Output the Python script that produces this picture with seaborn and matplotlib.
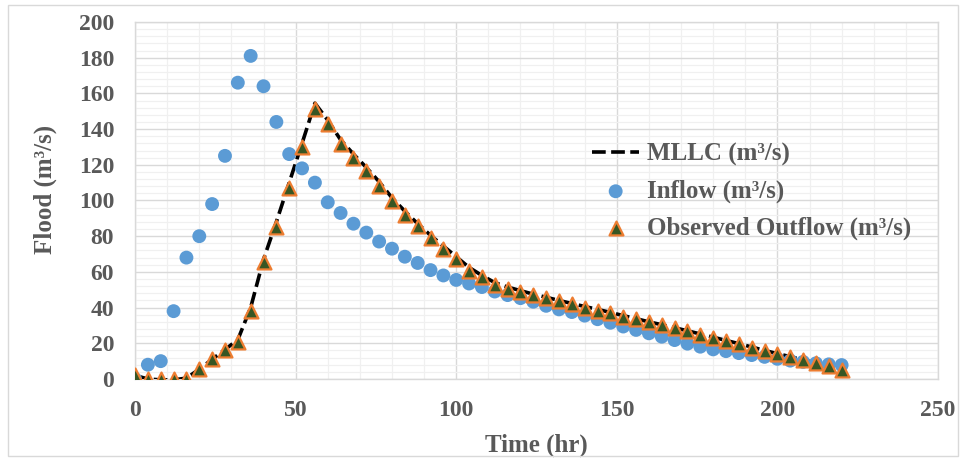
import matplotlib
matplotlib.use("Agg")
import matplotlib.pyplot as plt
import seaborn as sns
import pandas as pd
from matplotlib.patches import Rectangle
from matplotlib.ticker import MultipleLocator

time_hr = [0, 4, 8, 12, 16, 20, 24, 28, 32, 36, 40, 44, 48, 52, 56, 60, 64, 68,
           72, 76, 80, 84, 88, 92, 96, 100, 104, 108, 112, 116, 120, 124, 128,
           132, 136, 140, 144, 148, 152, 156, 160, 164, 168, 172, 176, 180, 184,
           188, 192, 196, 200, 204, 208, 212, 216, 220]

inflow = [0, 8, 10, 38, 68, 80, 98, 125, 166, 181, 164, 144, 126, 118, 110, 99,
          93, 87, 82, 77, 73, 68.5, 65, 61, 58, 55.5, 53.5, 51.5, 49, 47, 45.3,
          43.3, 41, 39, 37.5, 35.5, 33.5, 31.5, 29.4, 27.5, 25.6, 23.7, 21.8,
          19.8, 18.1, 16.6, 15.6, 14.5, 13.4, 12.4, 11.3, 10.3, 9.6, 8.8, 8.2, 7.8]

observed = [2, 0, 0, 0, 0, 5.6, 11, 16, 21, 38, 65.5, 85, 107, 130, 151, 143,
            131.6, 124, 116.5, 108, 99.5, 92, 85.5, 79, 73, 67, 60.5, 57, 52.5,
            50.5, 48.8, 47, 45.3, 43.5, 41.8, 40, 38.3, 36.8, 34.9, 33.4, 31.8,
            30.3, 28.4, 26.9, 24.8, 23.1, 21.2, 19.6, 17.6, 15.8, 14.0, 12.5,
            10.7, 9.1, 7.5, 5.0]

mllc = [2, 0, -0.5, -0.5, 0.5, 5.5, 11, 16.5, 22, 40, 67, 88, 110, 132, 154.5,
        145, 134, 126, 118.5, 110.5, 101.5, 94, 87, 80.5, 74.5, 68.5, 62.5, 58,
        54, 51.5, 49.5, 47.5, 45.8, 44, 42.3, 40.6, 39, 37.3, 35.5, 33.8, 32,
        30.4, 28.7, 27, 25.2, 23.4, 21.6, 19.8, 17.9, 16, 14.2, 12.5, 10.7, 9,
        7.3, 5.5]

df = pd.DataFrame({"time": time_hr, "inflow": inflow,
                   "observed": observed, "mllc": mllc})

sns.set_theme(style="white")
plt.rcParams["font.family"] = ["Liberation Serif", "DejaVu Serif"]
plt.rcParams["font.weight"] = "bold"

text_gray = "#595959"

fig = plt.figure(figsize=(9.66, 4.61), dpi=100)
ax = fig.add_axes([0.1398, 0.1779, 0.8312, 0.7744])

# chart area border
fig.patches.append(Rectangle((0.008, 0.01), 0.984, 0.98, transform=fig.transFigure,
                             fill=False, edgecolor="#d9d9d9", linewidth=1.0))

sns.lineplot(data=df, x="time", y="mllc", ax=ax, color="black", linewidth=2.6,
             dashes=False, linestyle=(0, (3.8, 1.5)), label="MLLC (m³/s)",
             zorder=3)
sns.scatterplot(data=df, x="time", y="inflow", ax=ax, color="#5B9BD5", s=100,
                marker="o", edgecolor="none", label="Inflow (m³/s)", zorder=4)
sns.scatterplot(data=df, x="time", y="observed", ax=ax, color="#375623", s=100,
                marker="^", edgecolor="#ED7D31", linewidth=1.6,
                label="Observed Outflow (m³/s)", zorder=5)

ax.set_xlim(0, 250)
ax.set_ylim(0, 200)
ax.xaxis.set_major_locator(MultipleLocator(50))
ax.xaxis.set_minor_locator(MultipleLocator(10))
ax.yaxis.set_major_locator(MultipleLocator(20))
ax.yaxis.set_minor_locator(MultipleLocator(4))
ax.grid(which="major", color="#d9d9d9", linewidth=1.0, zorder=0)
ax.grid(which="minor", color="#f0f0f0", linewidth=0.9, zorder=0)
ax.set_axisbelow(True)
for s in ax.spines.values():
    s.set_color("#d9d9d9")
    s.set_linewidth(1.0)

ax.tick_params(axis="x", which="both", length=0, labelsize=17,
               labelcolor=text_gray, pad=15)
ax.tick_params(axis="y", which="both", length=0, labelsize=17,
               labelcolor=text_gray, pad=15)
for lab in ax.get_xticklabels() + ax.get_yticklabels():
    lab.set_fontweight("bold")

ax.set_xlabel("Time (hr)", fontsize=18, fontweight="bold", color=text_gray)
ax.set_ylabel("Flood (m³/s)", fontsize=18, fontweight="bold", color=text_gray)
ax.xaxis.set_label_coords(0.5, -0.152)
ax.yaxis.set_label_coords(-0.112, 0.532)
ax.yaxis.label.set_va("center")
ax.xaxis.label.set_va("top")

leg = ax.legend(loc="upper left", bbox_to_anchor=(0.569, 0.662), frameon=False,
                fontsize=18, handlelength=1.9, handletextpad=0.3,
                labelspacing=0.55, borderaxespad=0, borderpad=0)
for t in leg.get_texts():
    t.set_color(text_gray)
    t.set_fontweight("bold")

fig.savefig("out.png", dpi=100)
